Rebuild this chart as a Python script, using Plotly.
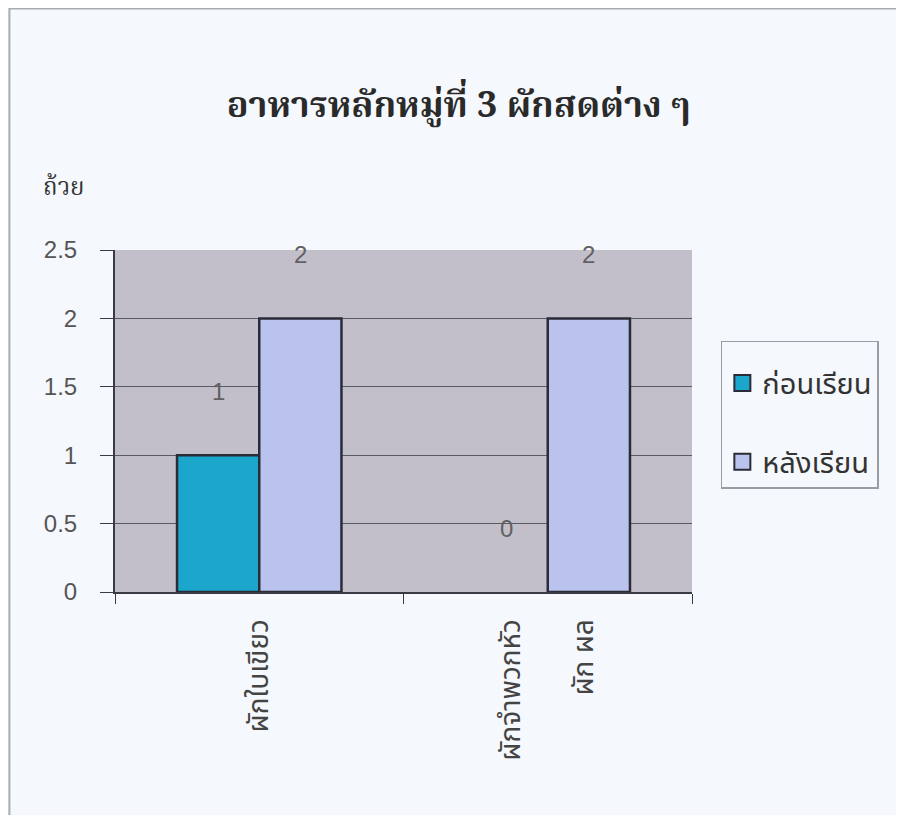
import plotly.graph_objects as go

categories = ["ผักใบเขียว", "ผักจำพวกหัว<br><br>ผัก ผล"]
series_names = ["ก่อนเรียน", "หลังเรียน"]
before_vals = [1, 0]
after_vals = [2, 2]
y_ticks = [0, 0.5, 1, 1.5, 2, 2.5]
y_tick_text = ["0", "0.5", "1", "1.5", "2", "2.5"]

title_text = "อาหารหลักหมู่ที่ 3 ผักสดต่าง ๆ"
y_unit = "ถ้วย"

colors = ["#1ba6cc", "#b9c3ee"]
outline = "#2b2b38"
thai_sans = "Noto Sans Thai, Loma, Garuda, DejaVu Sans, Liberation Sans, sans-serif"
thai_serif = "Noto Serif Thai, Norasi, Kinnari, DejaVu Serif, serif"

fig = go.Figure()
for name, vals, col in zip(series_names, [before_vals, after_vals], colors):
    fig.add_trace(go.Bar(
        x=categories, y=vals, name=name, showlegend=False,
        marker=dict(color=col,
                    line=dict(color=outline, width=[2.5 if v else 0 for v in vals])),
    ))

# legend entries (larger square swatches)
for i, (name, col) in enumerate(zip(series_names, colors)):
    fig.add_trace(go.Scatter(
        x=[None], y=[None], mode="markers", name=name, legendgroup=str(i),
        marker=dict(symbol="square", size=16, color=col, line=dict(color=outline, width=2)),
    ))

# data labels (Excel-style, offset above bars)
for vals, xs in [(before_vals, -41), (after_vals, 41)]:
    for c, v in zip(categories, vals):
        fig.add_annotation(x=c, y=v, text=str(v), showarrow=False,
                           xshift=xs, yshift=64, yanchor="middle",
                           font=dict(family="Liberation Sans, Arial", size=24, color="#606060"))

fig.add_annotation(xref="paper", yref="paper", x=-0.09, y=1.18, text=y_unit,
                   showarrow=False, xanchor="center", yanchor="middle",
                   font=dict(family=thai_serif, size=24, color="#333333"))

# chart frame
fig.add_shape(type="rect", xref="paper", yref="paper",
              x0=-0.183, x1=1.5, y0=-0.7, y1=1.706,
              line=dict(color="#a9abb0", width=2), layer="below")

fig.update_layout(
    width=896, height=807,
    margin=dict(l=107, r=212, t=242, b=223),
    paper_bgcolor="#f5f8fc",
    plot_bgcolor="#c2bfcb",
    bargap=0.43, bargroupgap=0,
    title=dict(text="<b>" + title_text + "</b>", x=0.503, xanchor="center",
               y=0.88, yanchor="middle",
               font=dict(family=thai_serif, size=36, color="#2a2a2a")),
    legend=dict(x=1.05, y=0.735, xanchor="left", yanchor="top",
                bgcolor="#f5f8fc", bordercolor="#9a9ca3", borderwidth=1.5,
                font=dict(family=thai_sans, size=29, color="#333333"),
                title=dict(text=" ", font=dict(size=12)),
                traceorder="grouped", tracegroupgap=38),
    showlegend=True,
)
fig.update_xaxes(
    type="category", showgrid=False, showline=True, linecolor="#3a3a44", linewidth=2,
    ticks="outside", tickson="boundaries", ticklen=10, tickcolor="#3a3a44",
    tickangle=-90, ticklabelstandoff=14,
    tickfont=dict(family=thai_sans, size=28, color="#444444"),
)
fig.update_yaxes(
    range=[0, 2.5], tickvals=y_ticks, ticktext=y_tick_text,
    showgrid=True, gridcolor="#5a5a64", gridwidth=1,
    showline=True, linecolor="#3a3a44", linewidth=2,
    ticks="outside", ticklen=13, tickcolor="#3a3a44", ticklabelstandoff=18,
    tickfont=dict(family="Liberation Sans, Arial", size=24, color="#555555"),
    zeroline=False,
)

fig.write_html("out.html")
